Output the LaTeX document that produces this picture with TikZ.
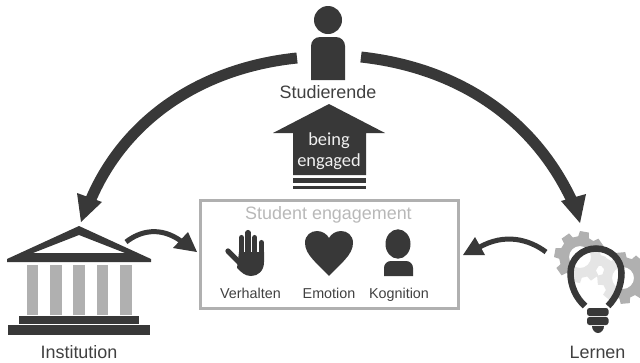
\documentclass[tikz,border=0pt]{standalone}
\usepackage{fontspec}
\setmainfont{Liberation Sans}
\newfontfamily\carl{Carlito}
\definecolor{dk}{HTML}{383838}
\definecolor{gr}{HTML}{B0B0B0}
\definecolor{lbl}{HTML}{404040}
\definecolor{ltx}{HTML}{B8B8B8}
\definecolor{wht}{HTML}{F0F0F0}
\tikzset{
  biglabel/.style={text=lbl,font=\fontsize{18}{20}\selectfont,inner sep=0pt,anchor=base},
  smalllabel/.style={text=lbl,font=\fontsize{14.4}{16}\selectfont,inner sep=0pt,anchor=base},
  titlelabel/.style={text=ltx,font=\fontsize{18}{20}\selectfont,inner sep=0pt,anchor=base},
  houselabel/.style={text=wht,font=\carl\fontsize{18.5}{20}\selectfont,inner sep=0pt,anchor=base},
  arcline/.style={draw=dk,line width=11bp},
  curvline/.style={draw=dk,line width=5bp},
  headfill/.style={fill=dk},
  icon/.style={fill=dk},
  finger/.style={draw=dk,line width=5.3bp,line cap=round},
  framebox/.style={draw=gr,line width=3bp}
}
\newcommand{\gearshape}[5]{% cx cy R hole rot
  \fill[gr,even odd rule]
   ({#1+#3*cos(#5-10)},{#2+#3*sin(#5-10)})
   \foreach \k in {0,...,7}{
     -- ({#1+#3*cos(#5+45*\k-10)},{#2+#3*sin(#5+45*\k-10)})
     -- ({#1+#3*cos(#5+45*\k+10)},{#2+#3*sin(#5+45*\k+10)})
     -- ({#1+0.8*#3*cos(#5+45*\k+15)},{#2+0.8*#3*sin(#5+45*\k+15)})
     -- ({#1+0.8*#3*cos(#5+45*\k+30)},{#2+0.8*#3*sin(#5+45*\k+30)})
   } -- cycle
   (#1,#2) circle[radius=#4];
}
\begin{document}
\begin{tikzpicture}[x=1bp,y=-1bp]
\useasboundingbox (0,0) rectangle (640,362);
% connector ends
\coordinate (arcLstart) at (297,58);
\coordinate (arcLneck) at (91,199);
\coordinate (arcLtip) at (81,222);
\coordinate (arcLa) at (77,193);
\coordinate (arcLb) at (102,202);
\coordinate (arcRstart) at (361,57);
\coordinate (arcRneck) at (573,203);
\coordinate (arcRtip) at (580,223);
\coordinate (arcRa) at (561,201);
\coordinate (arcRb) at (586,194);
\coordinate (smLstart) at (126,242);
\coordinate (smLneck) at (181,241);
\coordinate (smLtip) at (197,252);
\coordinate (smLa) at (188,232);
\coordinate (smLb) at (173,248);
\coordinate (smRstart) at (546,252);
\coordinate (smRneck) at (478,248);
\coordinate (smRtip) at (463,255);
\coordinate (smRa) at (475,237);
\coordinate (smRb) at (485,255);
% arcs
\draw[arcline] (arcLstart) .. controls (200,68) and (125,120) .. (arcLneck);
\fill[headfill] (arcLtip) -- (arcLa) -- (arcLb) -- cycle;
\draw[arcline] (arcRstart) .. controls (460,68) and (535,120) .. (arcRneck);
\fill[headfill] (arcRtip) -- (arcRa) -- (arcRb) -- cycle;
% small curved arrows
\draw[curvline] (smLstart) .. controls (140,231) and (160,226) .. (smLneck);
\fill[headfill] (smLtip) -- (smLa) -- (smLb) -- cycle;
\draw[curvline] (smRstart) .. controls (530,240) and (505,232) .. (smRneck);
\fill[headfill] (smRtip) -- (smRa) -- (smRb) -- cycle;
% student
\fill[icon] (328,20) circle[radius=14];
\fill[icon] (311,80) -- (311,46) .. controls (311,41) and (315,37) .. (320,37) -- (336,37) .. controls (341,37) and (345,41) .. (345,46) -- (345,80) -- cycle;
\node[biglabel] (studierende) at (328,98) {Studierende};
% house arrow
\fill[icon] (329,104) -- (385,133) -- (366,133) -- (366,175) -- (293,175) -- (293,133) -- (273,133) -- cycle;
\fill[icon] (293,178) rectangle (366,183);
\fill[icon] (293,186) rectangle (366,189);
\node[houselabel] (being) at (329,145) {being};
\node[houselabel] (engaged) at (329,166) {engaged};
% engagement box
\draw[framebox] (200.5,200.5) rectangle (458.5,308);
\node[titlelabel] (title) at (328.5,219) {Student engagement};
% hand
\fill[icon] (239,252) -- (264,252) -- (264,262) .. controls (264,271) and (258,276) .. (251,276) .. controls (245,276) and (241,272) .. (237,268) -- cycle;
\draw[finger] (228,251) -- (242,265);
\draw[finger] (241.5,237.6) -- (241.5,262);
\draw[finger] (248,232.6) -- (248,262);
\draw[finger] (254.7,237.6) -- (254.7,262);
\draw[finger] (261.4,242.6) -- (261.4,262);
\node[smalllabel] (verhalten) at (250.5,298) {Verhalten};
% heart
\fill[icon] (329,276) .. controls (318,264) and (305,255) .. (305,243) .. controls (305,235) and (311,231) .. (317,231) .. controls (322,231) and (327,234) .. (329,238) .. controls (331,234) and (336,231) .. (341,231) .. controls (347,231) and (353,235) .. (353,243) .. controls (353,255) and (340,264) .. (329,276) -- cycle;
\node[smalllabel] (emotion) at (329,298) {Emotion};
% cognition
\fill[icon] (398,244) ellipse[x radius=12.5,y radius=14.7];
\fill[icon] (384,276) -- (384,268) .. controls (384,264) and (387,261) .. (391,261) -- (406,261) .. controls (410,261) and (413,264) .. (413,268) -- (413,276) -- cycle;
\node[smalllabel] (kognition) at (399,298) {Kognition};
% temple
\fill[icon,even odd rule] (7,259) -- (79,226) -- (151,259) -- (151,262) -- (7,262) -- cycle (33,253) -- (79,235) -- (125,253) -- cycle;
\foreach \cx in {32.5,56,79,102.5,126}{\fill[gr] (\cx-5.8,265) rectangle (\cx+5.8,315);}
\fill[icon] (18.5,316) rectangle (139,324);
\fill[icon] (7.5,325) rectangle (150,335);
\node[biglabel] (institution) at (79,358) {Institution};
% gears and bulb
\gearshape{580}{257}{26}{11}{10}
\gearshape{623}{278}{26}{11}{-5}
\fill[white,opacity=.68] (585,306) .. controls (576,298) and (570.5,286) .. (570.5,273) .. controls (570.5,259) and (582,248.5) .. (596,248.5) .. controls (610,248.5) and (621.5,259) .. (621.5,273) .. controls (621.5,286) and (616,298) .. (608,306) -- cycle;
\draw[dk,line width=6.5bp] (585,306) .. controls (576,298) and (570.5,286) .. (570.5,273) .. controls (570.5,259) and (582,248.5) .. (596,248.5) .. controls (610,248.5) and (621.5,259) .. (621.5,273) .. controls (621.5,286) and (616,298) .. (608,306);
\fill[icon,rounded corners=2.5bp] (587,308) rectangle (608.5,316);
\fill[icon,rounded corners=2.5bp] (587,317) rectangle (608.5,325);
\fill[icon] (592,326) -- (604,326) .. controls (604,330) and (601,333) .. (598,333) .. controls (595,333) and (592,330) .. (592,326) -- cycle;
\node[biglabel] (lernen) at (597.5,358) {Lernen};
\end{tikzpicture}
\end{document}
